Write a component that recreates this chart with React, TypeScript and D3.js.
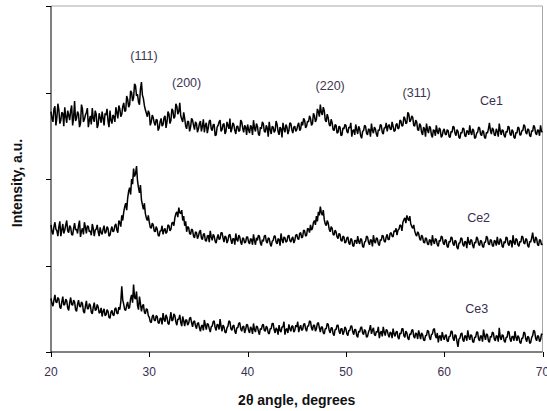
import * as d3 from 'd3'

// XRD patterns, 2θ from 20° to 70° every 0.1°
const twoThetaStart = 20
const twoThetaStep = 0.1

const ce1 = [
  278, 270, 266, 281, 284, 262, 271, 287, 280, 264, 268, 277, 276, 261, 283, 272, 265, 279, 274, 268, 279, 285, 262, 271, 290, 267, 270, 278, 275, 260, 264, 286, 281, 266, 269, 274, 277, 282, 260, 268, 273, 263, 282, 270, 266, 279, 275, 259, 263, 276,
  271, 265, 278, 270, 262, 276, 274, 281, 267, 260, 279, 268, 264, 274, 272, 266, 283, 277, 270, 285, 281, 272, 275, 284, 288, 278, 279, 296, 292, 283, 286, 302, 300, 290, 294, 310, 308, 296, 298, 289, 286, 304, 312, 297, 293, 285, 280, 276, 272, 279,
  276, 262, 266, 274, 271, 265, 262, 269, 268, 256, 259, 266, 270, 261, 263, 271, 273, 259, 266, 278, 275, 264, 268, 281, 279, 270, 272, 287, 284, 275, 278, 288, 273, 269, 266, 277, 270, 261, 258, 267, 266, 255, 260, 270, 268, 262, 257, 266, 264, 254,
  258, 264, 267, 255, 261, 269, 254, 262, 265, 253, 259, 267, 268, 258, 256, 263, 263, 250, 251, 260, 262, 266, 268, 255, 257, 263, 264, 252, 255, 266, 262, 258, 270, 254, 258, 265, 263, 256, 252, 261, 261, 255, 256, 268, 266, 259, 254, 262, 260, 251,
  263, 257, 253, 262, 260, 251, 268, 259, 255, 264, 261, 252, 250, 260, 258, 266, 264, 255, 254, 262, 259, 249, 266, 257, 252, 261, 260, 254, 256, 267, 263, 255, 251, 260, 258, 248, 265, 258, 254, 263, 260, 252, 256, 265, 264, 257, 253, 260, 261, 255,
  257, 262, 265, 256, 258, 266, 262, 270, 268, 259, 261, 267, 266, 273, 270, 262, 264, 276, 273, 266, 269, 281, 278, 272, 286, 277, 274, 283, 279, 268, 266, 275, 271, 263, 261, 269, 265, 257, 256, 263, 262, 253, 254, 261, 260, 250, 251, 259, 258, 263,
  262, 255, 253, 260, 259, 265, 249, 256, 257, 251, 263, 257, 252, 261, 258, 250, 247, 255, 256, 262, 261, 253, 251, 258, 257, 249, 264, 256, 253, 260, 258, 252, 249, 257, 256, 263, 262, 254, 252, 259, 259, 265, 255, 261, 263, 258, 257, 266, 261, 255,
  256, 263, 264, 258, 259, 268, 267, 261, 262, 272, 270, 264, 265, 277, 275, 266, 268, 273, 271, 262, 261, 268, 266, 257, 256, 264, 262, 254, 251, 260, 258, 249, 264, 257, 253, 261, 259, 251, 248, 257, 256, 250, 262, 255, 252, 259, 257, 248, 250, 256,
  258, 252, 251, 257, 256, 249, 248, 255, 254, 261, 260, 253, 250, 257, 255, 248, 247, 254, 253, 259, 258, 250, 249, 256, 255, 251, 262, 254, 251, 258, 256, 247, 248, 253, 254, 260, 259, 252, 250, 256, 255, 248, 247, 254, 253, 258, 265, 256, 252, 259,
  257, 251, 250, 258, 255, 249, 264, 256, 251, 257, 256, 250, 248, 255, 254, 261, 260, 252, 250, 257, 255, 248, 247, 254, 253, 260, 259, 251, 251, 256, 256, 263, 261, 254, 252, 258, 257, 250, 249, 256, 255, 262, 260, 253, 251, 257, 256, 250, 262, 255,
  254,
]

const ce2 = [
  147, 139, 136, 145, 150, 142, 140, 134, 145, 151, 134, 141, 148, 137, 141, 147, 152, 140, 138, 146, 144, 136, 135, 143, 149, 141, 142, 137, 146, 152, 133, 140, 143, 136, 150, 144, 137, 146, 145, 139, 140, 135, 148, 143, 134, 141, 142, 147, 139, 134,
  144, 138, 136, 142, 146, 137, 139, 145, 143, 134, 135, 141, 145, 139, 140, 146, 148, 141, 138, 152, 150, 145, 158, 152, 162, 168, 172, 164, 178, 186, 190, 182, 200, 194, 212, 203, 206, 215, 198, 190, 184, 193, 176, 170, 165, 172, 160, 155, 152, 158,
  150, 144, 143, 149, 147, 140, 139, 145, 142, 135, 134, 140, 140, 146, 136, 141, 143, 137, 139, 147, 146, 140, 142, 149, 150, 146, 155, 160, 162, 156, 167, 161, 160, 164, 152, 157, 146, 151, 139, 145, 144, 137, 136, 142, 141, 134, 132, 139, 138, 131,
  134, 139, 141, 132, 130, 136, 137, 129, 128, 134, 135, 127, 140, 133, 129, 136, 134, 128, 126, 132, 136, 130, 131, 138, 138, 132, 127, 134, 133, 126, 129, 135, 136, 130, 125, 131, 131, 124, 137, 130, 128, 135, 133, 127, 124, 132, 131, 126, 127, 133,
  133, 127, 125, 131, 130, 124, 136, 129, 124, 132, 129, 135, 134, 126, 123, 130, 128, 134, 135, 128, 126, 132, 131, 125, 122, 128, 129, 134, 134, 127, 125, 131, 130, 123, 137, 130, 126, 133, 132, 127, 128, 134, 135, 129, 127, 131, 133, 126, 129, 135,
  136, 131, 130, 137, 138, 132, 133, 141, 140, 134, 135, 143, 142, 138, 147, 141, 143, 150, 152, 147, 157, 151, 162, 158, 168, 161, 158, 164, 153, 148, 146, 152, 149, 142, 139, 145, 143, 136, 135, 141, 139, 133, 131, 137, 136, 129, 128, 134, 133, 126,
  127, 132, 133, 126, 124, 131, 130, 123, 122, 129, 129, 125, 134, 128, 125, 131, 130, 122, 121, 127, 128, 134, 133, 127, 124, 130, 129, 122, 135, 128, 126, 132, 131, 125, 123, 130, 129, 135, 134, 128, 127, 133, 136, 130, 130, 137, 138, 134, 133, 140,
  139, 143, 135, 141, 142, 147, 146, 140, 150, 153, 155, 149, 158, 154, 152, 157, 148, 145, 143, 147, 140, 136, 134, 139, 137, 131, 129, 135, 133, 127, 126, 132, 131, 125, 124, 130, 129, 123, 135, 128, 125, 131, 130, 124, 122, 129, 128, 134, 133, 126,
  124, 130, 129, 122, 121, 128, 127, 133, 132, 125, 123, 129, 128, 121, 119, 126, 126, 132, 131, 124, 122, 128, 127, 120, 133, 127, 124, 130, 129, 123, 120, 127, 126, 133, 131, 125, 123, 129, 128, 122, 121, 127, 127, 134, 132, 125, 124, 130, 129, 123,
  122, 129, 128, 123, 133, 126, 124, 131, 129, 122, 121, 128, 126, 133, 132, 125, 123, 129, 128, 121, 135, 127, 124, 131, 130, 124, 122, 128, 127, 134, 133, 126, 125, 131, 130, 123, 121, 128, 127, 132, 138, 129, 126, 133, 131, 124, 123, 130, 129, 124,
  125,
]

const ce3 = [
  62, 56, 53, 60, 66, 58, 57, 63, 61, 52, 50, 58, 64, 54, 55, 61, 59, 51, 48, 57, 63, 55, 54, 60, 58, 49, 47, 55, 60, 53, 52, 58, 56, 47, 45, 53, 59, 50, 50, 56, 54, 46, 44, 52, 57, 48, 49, 55, 52, 45,
  46, 51, 41, 47, 50, 42, 43, 49, 47, 40, 39, 46, 48, 43, 42, 50, 51, 45, 44, 52, 49, 58, 76, 60, 55, 49, 48, 54, 58, 50, 52, 62, 66, 57, 78, 63, 61, 70, 54, 49, 64, 56, 47, 53, 55, 46, 44, 50, 49, 42,
  40, 35, 34, 41, 43, 37, 36, 42, 41, 34, 33, 39, 39, 32, 45, 38, 35, 43, 40, 33, 32, 39, 46, 36, 37, 44, 42, 35, 31, 38, 38, 43, 34, 30, 41, 36, 30, 37, 37, 31, 33, 39, 40, 34, 29, 35, 36, 30, 27, 33,
  34, 28, 24, 30, 31, 25, 37, 31, 26, 33, 32, 27, 23, 29, 30, 35, 36, 28, 25, 32, 31, 26, 38, 30, 24, 31, 29, 23, 22, 28, 30, 36, 35, 27, 25, 30, 31, 24, 21, 28, 28, 33, 34, 27, 24, 29, 30, 22, 26, 32,
  31, 25, 22, 29, 27, 21, 33, 26, 23, 30, 29, 24, 20, 27, 26, 31, 32, 25, 24, 30, 28, 22, 21, 27, 27, 33, 33, 26, 22, 28, 26, 20, 31, 25, 23, 29, 29, 35, 20, 26, 27, 22, 32, 27, 24, 30, 30, 23, 25, 31,
  29, 35, 23, 28, 31, 25, 26, 32, 33, 27, 24, 30, 30, 36, 35, 28, 25, 31, 31, 24, 27, 33, 34, 28, 23, 29, 29, 22, 21, 27, 27, 33, 32, 25, 22, 28, 28, 21, 19, 26, 26, 31, 31, 24, 21, 27, 27, 20, 23, 29,
  27, 21, 19, 25, 25, 30, 30, 23, 20, 26, 26, 19, 17, 24, 23, 28, 29, 22, 20, 26, 24, 17, 18, 23, 26, 31, 21, 25, 28, 20, 19, 24, 23, 29, 16, 22, 24, 18, 29, 23, 19, 26, 25, 20, 17, 23, 22, 16, 27, 21,
  18, 23, 24, 17, 15, 22, 21, 27, 27, 19, 17, 24, 22, 16, 14, 21, 20, 25, 26, 18, 16, 22, 21, 15, 25, 20, 15, 22, 20, 14, 13, 19, 19, 25, 24, 17, 14, 20, 21, 26, 27, 19, 16, 22, 11, 18, 19, 13, 23, 18,
  14, 19, 20, 13, 12, 18, 18, 24, 24, 16, 13, 20, 19, 12, 6, 15, 16, 21, 22, 14, 12, 19, 18, 13, 25, 18, 14, 20, 19, 12, 11, 17, 17, 23, 23, 15, 13, 19, 18, 12, 26, 19, 14, 21, 20, 13, 11, 18, 17, 23,
  22, 15, 13, 19, 18, 12, 28, 17, 14, 20, 19, 13, 11, 17, 17, 24, 23, 15, 12, 18, 18, 13, 24, 17, 13, 19, 17, 11, 10, 16, 16, 23, 22, 15, 12, 18, 17, 10, 11, 17, 19, 25, 24, 16, 13, 19, 18, 12, 14, 21,
  20,
]

const xTicks = [20, 30, 40, 50, 60, 70]
const yTicks = [0, 100, 200, 300, 400]

const peakLabels = [
  { text: '(111)', angle: 29.45, level: 338 },
  { text: '(200)', angle: 33.8, level: 306 },
  { text: '(220)', angle: 48.4, level: 303 },
  { text: '(311)', angle: 57.2, level: 295 },
]
const sampleLabels = [
  { text: 'Ce1', angle: 64.8, level: 285 },
  { text: 'Ce2', angle: 63.5, level: 150 },
  { text: 'Ce3', angle: 63.3, level: 45 },
]

const W = 547
const H = 411
const margin = { top: 6, right: 4, bottom: 59, left: 51 }

export default function App() {
  const x = d3.scaleLinear().domain([20, 70]).range([margin.left, W - margin.right - 0.5])
  const y = d3.scaleLinear().domain([0, 400]).range([H - margin.bottom, margin.top])

  const line = d3
    .line<number>()
    .x((_, i) => x(twoThetaStart + i * twoThetaStep))
    .y((d) => y(d))

  const font = 'Arial, "Liberation Sans", sans-serif'
  const x0 = x(20)
  const x1 = x(70)
  const yb = y(0)
  const yt = y(400)

  return (
    <svg width={W} height={H} style={{ position: 'absolute', left: 0, top: 0, background: '#fff' }}>
      {/* frame */}
      <line x1={x0} x2={x1} y1={yt} y2={yt} stroke="#a8a8a8" />
      <line x1={x1} x2={x1} y1={yt} y2={yb} stroke="#a8a8a8" />
      <line x1={x0} x2={x0} y1={yt} y2={yb} stroke="#000" />
      <line x1={x0} x2={x1} y1={yb} y2={yb} stroke="#000" />

      {yTicks.map((t) => (
        <line key={t} x1={x0 - 5} x2={x0} y1={Math.round(y(t)) + 0.5} y2={Math.round(y(t)) + 0.5} stroke="#000" />
      ))}
      {xTicks.map((t) => (
        <g key={t}>
          <line x1={Math.round(x(t)) + 0.5} x2={Math.round(x(t)) + 0.5} y1={yb} y2={yb + 5} stroke="#000" />
          <text x={x(t)} y={yb + 24} textAnchor="middle" fontFamily={font} fontSize={12} fill="#3a2e52">
            {t}
          </text>
        </g>
      ))}

      {[ce1, ce2, ce3].map((s, i) => (
        <path key={i} d={line(s) ?? ''} fill="none" stroke="#000" strokeWidth={1.5} strokeLinejoin="bevel" />
      ))}

      {peakLabels.map((p) => (
        <text key={p.text} x={x(p.angle)} y={y(p.level)} textAnchor="middle" fontFamily={font} fontSize={12.5} fill="#3d3550">
          {p.text}
        </text>
      ))}
      {sampleLabels.map((p) => (
        <text key={p.text} x={x(p.angle)} y={y(p.level)} textAnchor="middle" fontFamily={font} fontSize={12.5} fill="#3a2e52">
          {p.text}
        </text>
      ))}

      <text x={(x0 + x1) / 2} y={405} textAnchor="middle" fontFamily={font} fontSize={14} fontWeight="bold" fill="#111">
        2θ angle, degrees
      </text>
      <text
        transform={`translate(22,${(yt + yb) / 2 + 4}) rotate(-90)`}
        textAnchor="middle"
        fontFamily={font}
        fontSize={14}
        fontWeight="bold"
        fill="#111"
      >
        Intensity, a.u.
      </text>
    </svg>
  )
}
